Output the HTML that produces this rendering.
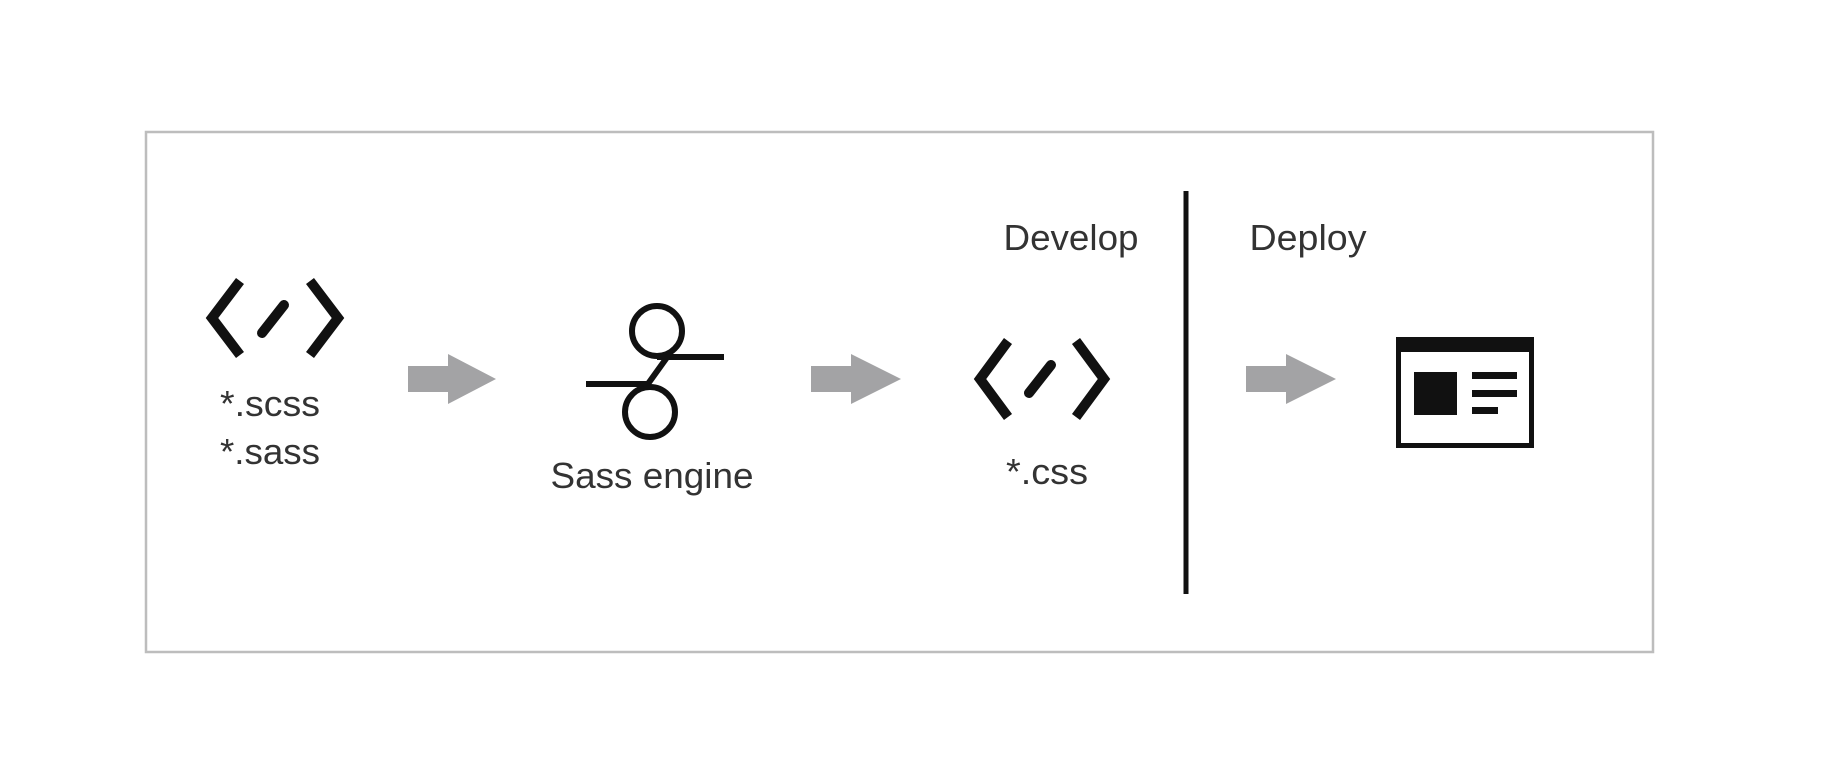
<!DOCTYPE html>
<html><head><meta charset="utf-8"><style>
html,body{margin:0;padding:0;background:#fff;}
svg{display:block;}
text{font-family:"Liberation Sans",Arial,sans-serif;fill:#333;}
</style></head><body>
<svg width="1844" height="772" viewBox="0 0 1844 772" xmlns="http://www.w3.org/2000/svg">
<rect x="0" y="0" width="1844" height="772" fill="#fff"/>
<rect x="146" y="132" width="1507" height="520" fill="#fff" stroke="#bdbdbd" stroke-width="2.5"/>

<!-- code icon 1 -->
<g fill="none" stroke="#111" stroke-width="10" stroke-linejoin="miter">
<polyline points="240,281 212,318 240,355"/>
<polyline points="310,281 338,318 310,355"/>
<line x1="262" y1="333" x2="284" y2="305" stroke-linecap="round"/>
</g>
<text x="270" y="416" font-size="36" text-anchor="middle" textLength="100" lengthAdjust="spacingAndGlyphs">*.scss</text>
<text x="270" y="464" font-size="36" text-anchor="middle" textLength="100" lengthAdjust="spacingAndGlyphs">*.sass</text>

<!-- arrow 1 -->
<polygon points="408,366 448,366 448,354 496,379 448,404 448,392 408,392" fill="#a3a3a5"/>

<!-- sass engine -->
<g fill="none" stroke="#111" stroke-width="6">
<circle cx="657" cy="331" r="25"/>
<circle cx="650" cy="412" r="25"/>
<line x1="657" y1="357" x2="724" y2="357"/>
<line x1="586" y1="384" x2="651" y2="384"/>
<line x1="668" y1="356" x2="645" y2="388"/>
</g>
<text x="652" y="488" font-size="36" text-anchor="middle" textLength="203" lengthAdjust="spacingAndGlyphs">Sass engine</text>

<!-- arrow 2 -->
<polygon points="811,366 851,366 851,354 901,379 851,404 851,392 811,392" fill="#a3a3a5"/>

<text x="1071" y="250" font-size="36" text-anchor="middle" textLength="135" lengthAdjust="spacingAndGlyphs">Develop</text>

<!-- code icon 2 -->
<g fill="none" stroke="#111" stroke-width="10">
<polyline points="1008,341 980,379 1008,417"/>
<polyline points="1076,341 1104,379 1076,417"/>
<line x1="1029" y1="393" x2="1051" y2="365" stroke-linecap="round"/>
</g>
<text x="1047" y="484" font-size="36" text-anchor="middle" textLength="82" lengthAdjust="spacingAndGlyphs">*.css</text>

<!-- divider -->
<line x1="1186" y1="191" x2="1186" y2="594" stroke="#111" stroke-width="5"/>

<text x="1308" y="250" font-size="36" text-anchor="middle" textLength="117" lengthAdjust="spacingAndGlyphs">Deploy</text>

<!-- arrow 3 -->
<polygon points="1246,366 1286,366 1286,354 1336,379 1286,404 1286,392 1246,392" fill="#a3a3a5"/>

<!-- window icon -->
<g transform="translate(-8,0)">
<rect x="1406.5" y="339.5" width="133" height="106" fill="#fff" stroke="#111" stroke-width="5"/>
<rect x="1404" y="337" width="138" height="15" fill="#111"/>
<rect x="1422" y="372" width="43" height="43" fill="#111"/>
<rect x="1480" y="372" width="45" height="7" fill="#111"/>
<rect x="1480" y="390" width="45" height="7" fill="#111"/>
<rect x="1480" y="407" width="26" height="7" fill="#111"/>
</g>
</svg>
</body></html>
